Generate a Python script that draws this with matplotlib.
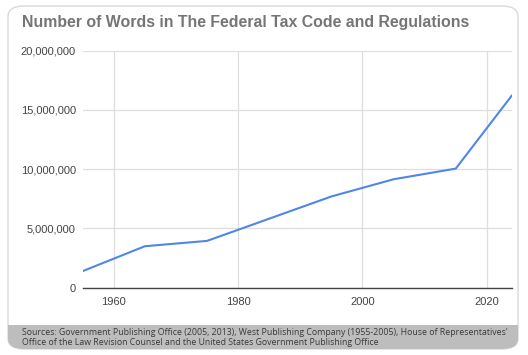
import matplotlib
matplotlib.use("Agg")
import matplotlib.pyplot as plt
from matplotlib.patches import FancyBboxPatch, Rectangle
from matplotlib.ticker import FuncFormatter

# data
years = [1955, 1965, 1975, 1995, 2005, 2015, 2024]
words = [1.4e6, 3.5e6, 3.95e6, 7.7e6, 9.15e6, 10.05e6, 16.2e6]
x_ticks = [1960, 1980, 2000, 2020]
y_ticks = [0, 5e6, 10e6, 15e6, 20e6]

title = "Number of Words in The Federal Tax Code and Regulations"
source = ("Sources: Government Publishing Office (2005, 2013), West Publishing Company (1955-2005), House of Representatives'\n"
          "Office of the Law Revision Counsel and the United States Government Publishing Office")

W, H = 528, 355
fig = plt.figure(figsize=(W / 100, H / 100), dpi=100)
fig.patch.set_facecolor("white")

# card with rounded border
card = FancyBboxPatch((8 / W, 6 / H), 510 / W, 343 / H,
                      boxstyle="round,pad=0,rounding_size=0.03",
                      transform=fig.transFigure, facecolor="white",
                      edgecolor="#d3dbe0", linewidth=1.0, zorder=-2)
fig.patches.append(card)

# gray footer band, clipped to the card's shape
band = Rectangle((8 / W, 6 / H), 510 / W, 24 / H, transform=fig.transFigure,
                 facecolor="#bdbdbd", edgecolor="none", zorder=-1)
band.set_clip_path(card)
fig.patches.append(band)

fig.text(22 / W, 1 - 22 / H, title, fontsize=11.4, fontweight="bold",
         color="#757575", family="Liberation Sans", va="center", ha="left")

fig.text(22 / W, 1 - 337.5 / H, source, fontsize=6.35, color="#3a3a3a",
         family="Open Sans", va="center", ha="left", linespacing=1.05)

ax = fig.add_axes([82.7 / W, 1 - 287.7 / H, 429 / W, 237 / H], zorder=2)
ax.set_facecolor("none")
ax.plot(years, words, color="#4f87e6", linewidth=1.5, solid_joinstyle="round", zorder=3)

ax.set_xlim(1955, 2024)
ax.set_ylim(0, 20e6)
ax.set_xticks(x_ticks)
ax.set_yticks(y_ticks)
ax.yaxis.set_major_formatter(FuncFormatter(lambda v, p: f"{int(v):,}"))

ax.grid(True, color="#dedede", linewidth=0.9)
ax.set_axisbelow(True)
for s in ["top", "right", "left"]:
    ax.spines[s].set_visible(False)
ax.spines["bottom"].set_color("#444444")
ax.spines["bottom"].set_linewidth(1.0)
ax.spines["bottom"].set_zorder(2)

ax.tick_params(axis="both", length=0, labelsize=8, labelcolor="#444444")
ax.tick_params(axis="y", pad=5)
ax.tick_params(axis="x", pad=7)
for lab in ax.get_xticklabels() + ax.get_yticklabels():
    lab.set_family("Liberation Sans")

fig.savefig("out.png", dpi=100)
